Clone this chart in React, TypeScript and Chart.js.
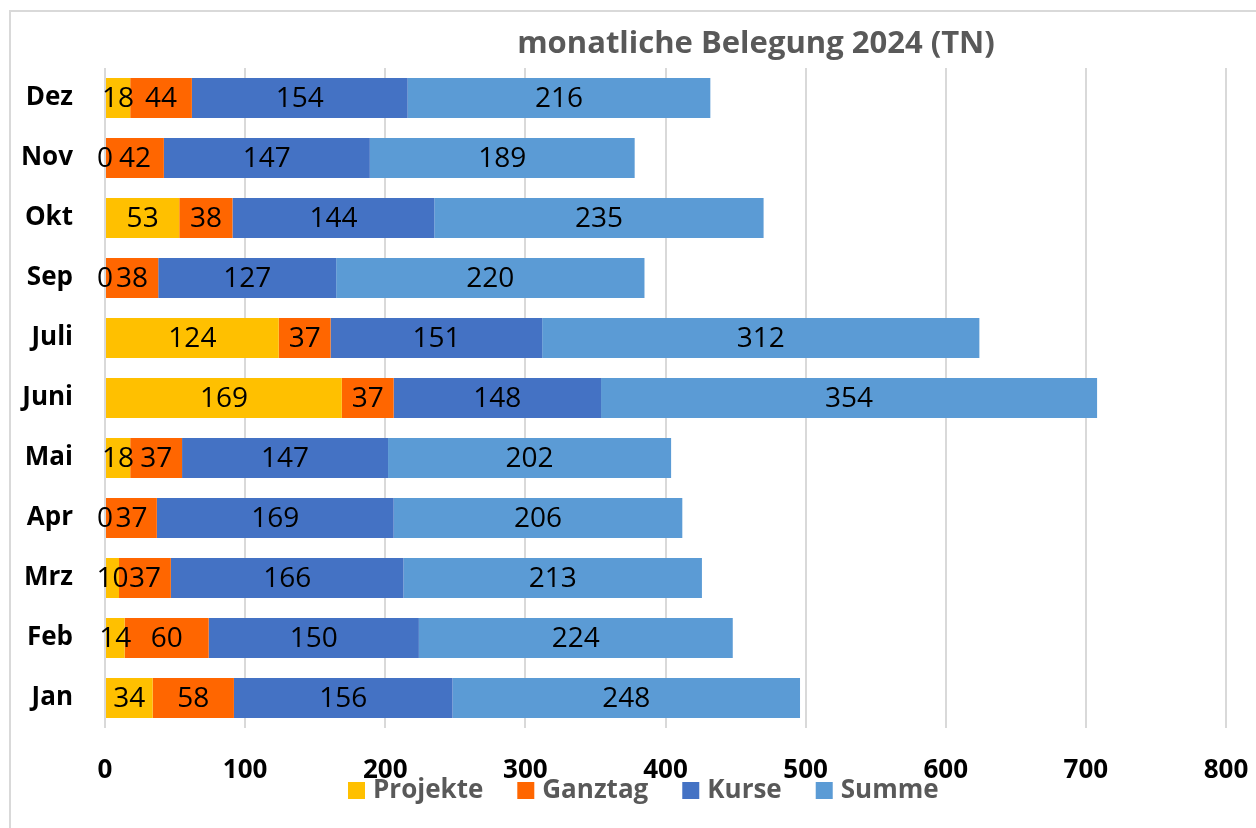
import React, { useEffect, useRef } from "react";
import { Chart, registerables } from "chart.js";

Chart.register(...registerables);

const months = ["Jan", "Feb", "Mrz", "Apr", "Mai", "Juni", "Juli", "Sep", "Okt", "Nov", "Dez"];
const projekte = [34, 14, 10, 0, 18, 169, 124, 0, 53, 0, 18];
const ganztag = [58, 60, 37, 37, 37, 37, 37, 38, 38, 42, 44];
const kurse = [156, 150, 166, 169, 147, 148, 151, 127, 144, 147, 154];
const summe = [248, 224, 213, 206, 202, 354, 312, 220, 235, 189, 216];
const seriesNames = ["Projekte", "Ganztag", "Kurse", "Summe"];
const seriesColors = ["#FFC000", "#FF6600", "#4472C4", "#5B9BD5"];
const titleText = "monatliche Belegung 2024 (TN)";
const xMin = 0;
const xMax = 800;
const xStep = 100;

const FONT = "'Open Sans', 'Noto Sans', sans-serif";

const valueLabelPlugin = {
  id: "valueLabels",
  afterDatasetsDraw(chart: any) {
    const ctx = chart.ctx;
    ctx.save();
    ctx.font = `28px ${FONT}`;
    ctx.fillStyle = "#000000";
    ctx.textAlign = "center";
    ctx.textBaseline = "middle";
    chart.data.datasets.forEach((ds: any, di: number) => {
      const meta = chart.getDatasetMeta(di);
      meta.data.forEach((el: any, i: number) => {
        const p = el.getProps(["x", "y", "base"], true);
        const v = ds.data[i];
        ctx.fillText(String(v), (p.x + p.base) / 2, p.y + 1);
      });
    });
    ctx.restore();
  },
};

const decorPlugin = {
  id: "decor",
  beforeDraw(chart: any) {
    const ctx = chart.ctx;
    ctx.save();
    ctx.fillStyle = "#ffffff";
    ctx.fillRect(0, 0, chart.width, chart.height);
    ctx.strokeStyle = "#d9d9d9";
    ctx.lineWidth = 2;
    ctx.beginPath();
    ctx.moveTo(10, chart.height + 5);
    ctx.lineTo(10, 11);
    ctx.lineTo(chart.width + 5, 11);
    ctx.stroke();
    ctx.restore();
  },
  afterDraw(chart: any) {
    const ctx = chart.ctx;
    ctx.save();
    // title
    ctx.font = `bold 31px ${FONT}`;
    ctx.fillStyle = "#595959";
    ctx.textAlign = "center";
    ctx.textBaseline = "alphabetic";
    ctx.fillText(titleText, 756, 53);
    // legend
    ctx.font = `bold 26px ${FONT}`;
    ctx.textAlign = "left";
    ctx.textBaseline = "middle";
    let x = 348;
    const y = 791;
    chart.data.datasets.forEach((ds: any) => {
      ctx.fillStyle = ds.backgroundColor;
      ctx.fillRect(x, y - 9, 17, 17);
      ctx.fillStyle = "#595959";
      const tx = x + 17 + 8;
      ctx.fillText(ds.label, tx, y);
      x = tx + ctx.measureText(ds.label).width + 34;
    });
    ctx.restore();
  },
};

export default function App() {
  const ref = useRef<HTMLCanvasElement | null>(null);
  useEffect(() => {
    if (!ref.current) return;
    const allSeries = [projekte, ganztag, kurse, summe];
    const chart = new Chart(ref.current, {
      type: "bar",
      data: {
        labels: months,
        datasets: seriesNames.map((name, i) => ({
          label: name,
          data: allSeries[i],
          backgroundColor: seriesColors[i],
          borderWidth: 0,
          barPercentage: 0.667,
          categoryPercentage: 1,
        })),
      },
      options: {
        indexAxis: "y",
        responsive: false,
        animation: false,
        layout: { padding: { left: 10, right: 30, top: 68, bottom: 0 } },
        plugins: {
          legend: { display: false },
          title: { display: false },
          tooltip: { enabled: false },
        },
        scales: {
          x: {
            stacked: true,
            min: xMin,
            max: xMax,
            ticks: {
              stepSize: xStep,
              color: "#000000",
              font: { family: FONT, size: 26, weight: "bold" },
              padding: 27,
              maxRotation: 0,
            },
            grid: { color: "#d9d9d9", lineWidth: 2, drawTicks: false },
            border: { display: false },
            afterFit: (s: any) => {
              s.height = 100;
              s.paddingLeft = 0;
              s.paddingRight = 0;
            },
          },
          y: {
            stacked: true,
            reverse: true,
            ticks: {
              color: "#000000",
              font: { family: FONT, size: 26, weight: "bold" },
              padding: 32,
            },
            grid: { display: false, drawTicks: false },
            border: { display: false },
            afterFit: (s: any) => {
              s.width = 95;
              s.paddingTop = 0;
              s.paddingBottom = 0;
            },
          },
        },
      } as any,
      plugins: [decorPlugin, valueLabelPlugin],
    });
    return () => chart.destroy();
  }, []);
  return (
    <div
      style={{
        position: "fixed",
        left: 0,
        top: 0,
        width: 1256,
        height: 828,
        overflow: "hidden",
        background: "#ffffff",
      }}
    >
      <canvas ref={ref} width={1256} height={828} style={{ display: "block" }} />
    </div>
  );
}
